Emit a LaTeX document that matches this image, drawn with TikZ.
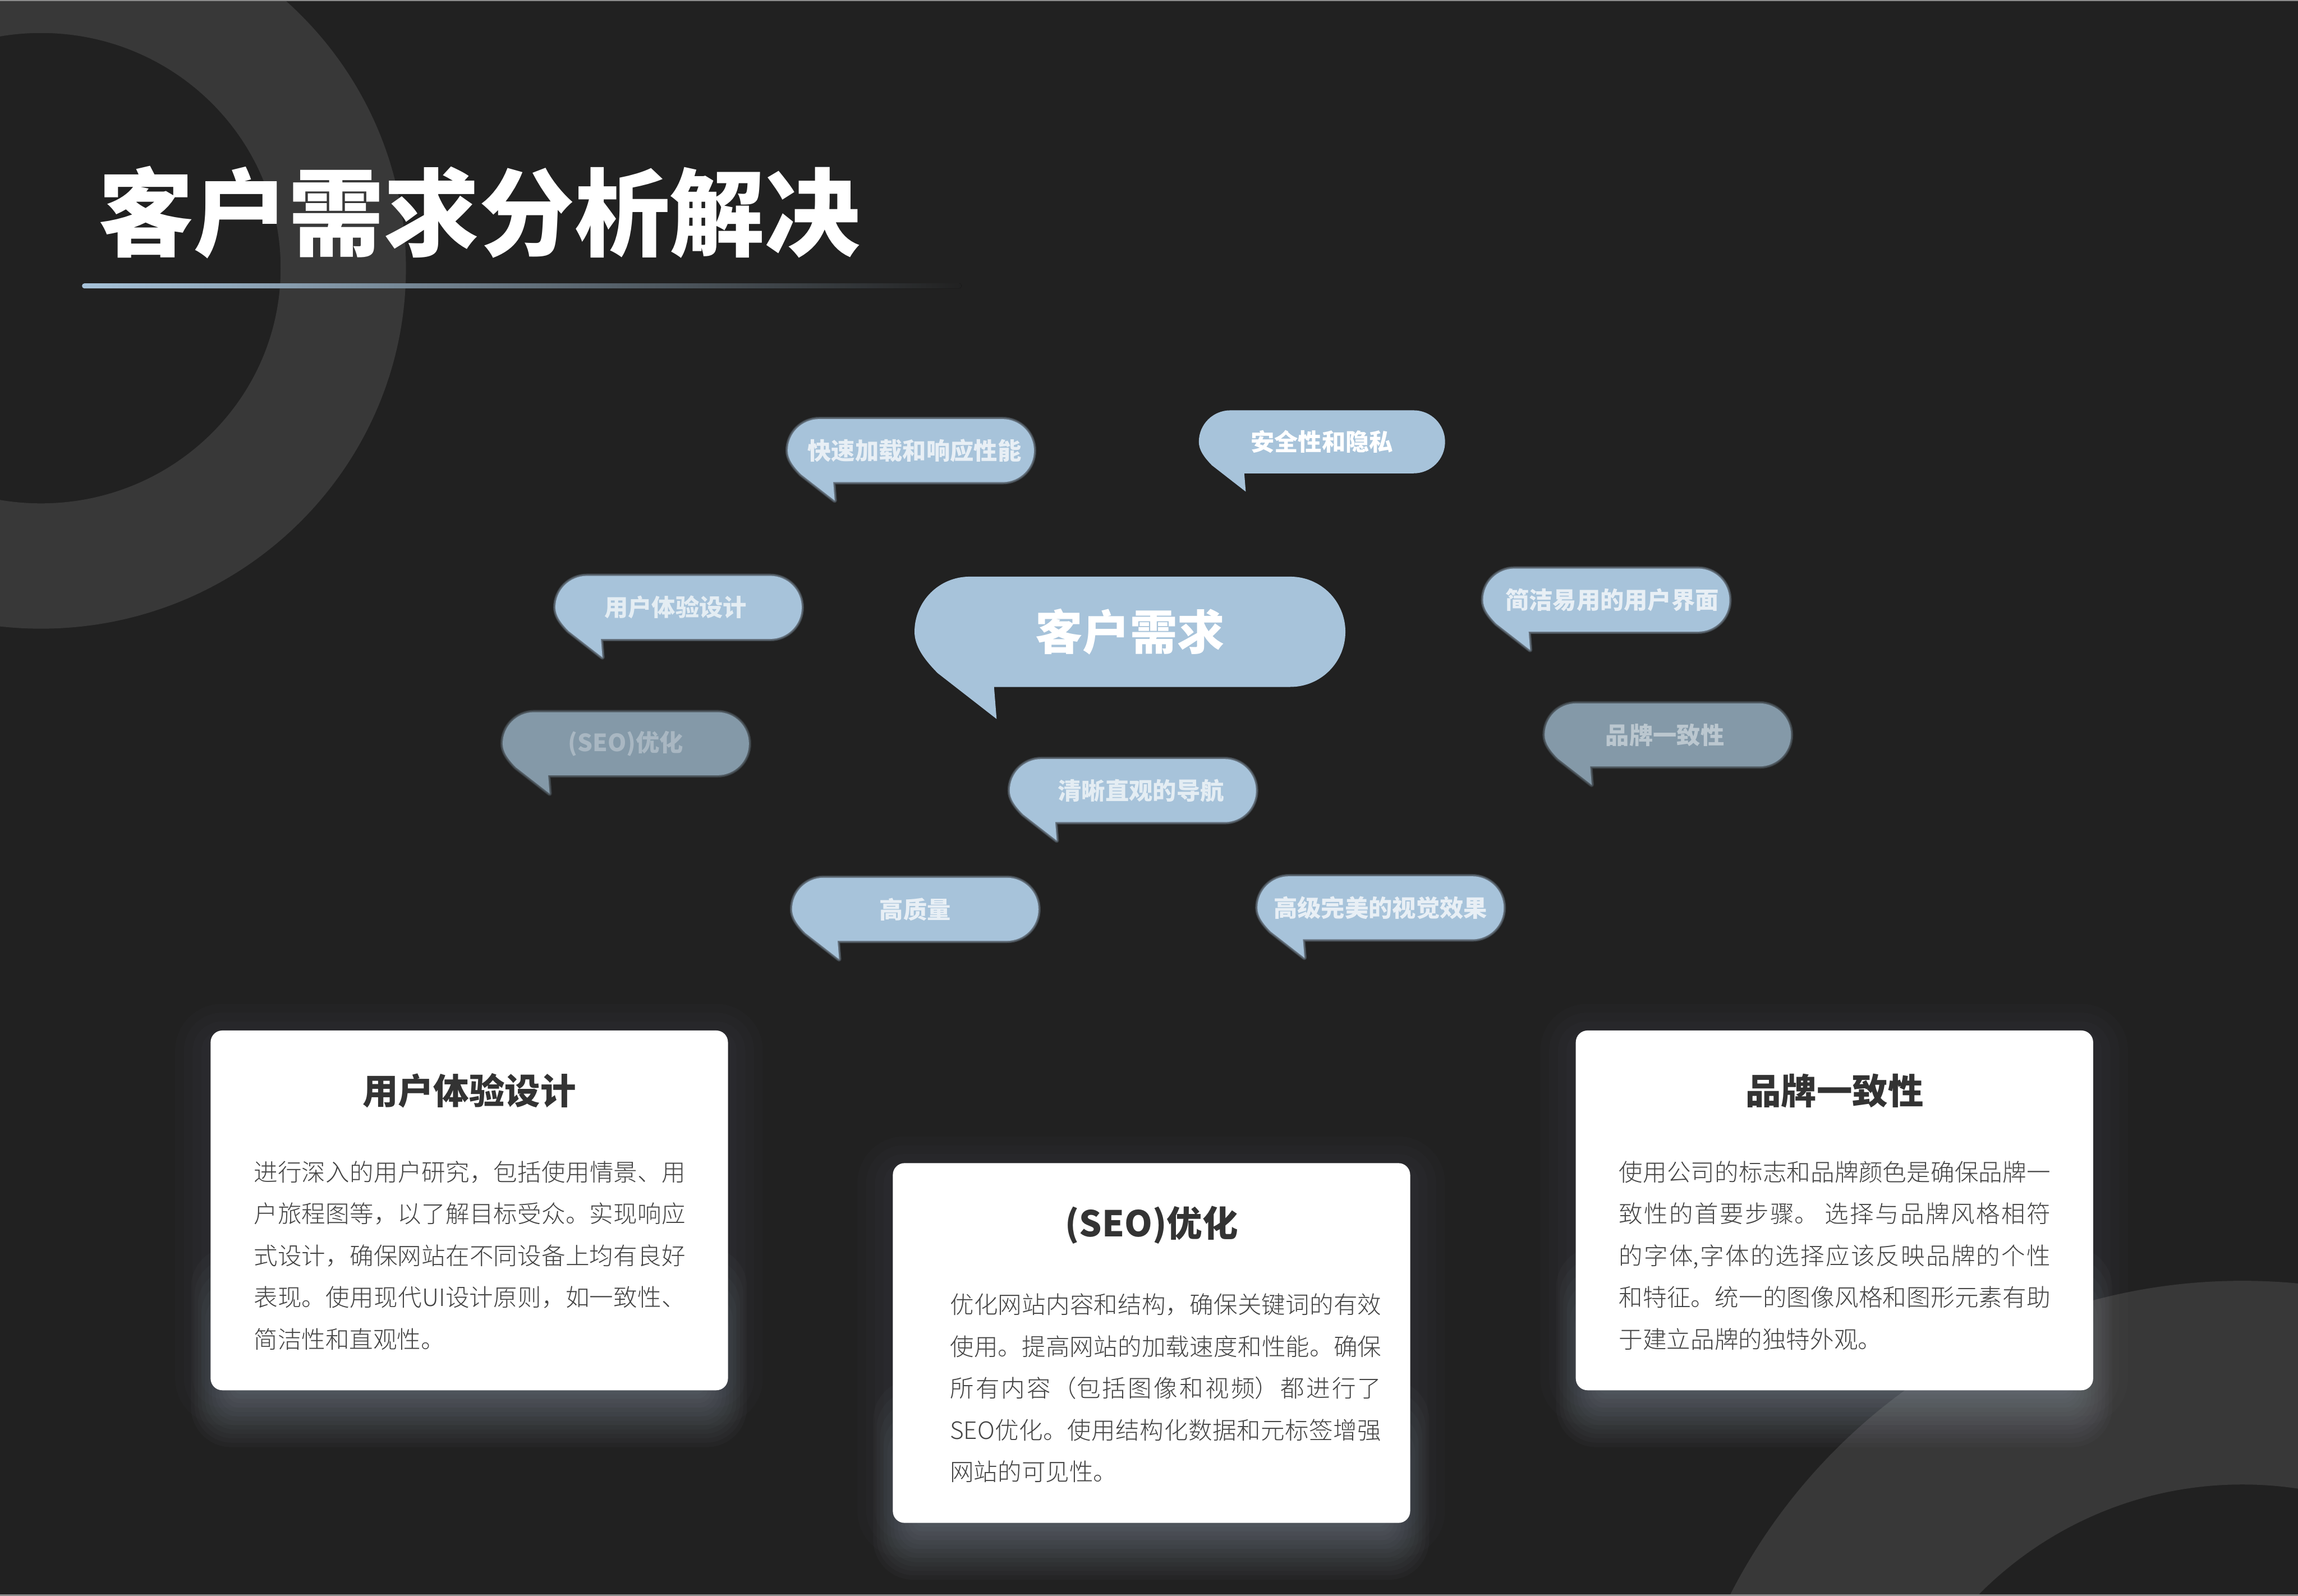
\documentclass[tikz,border=0pt]{standalone}
\usepackage{fontspec}
\setmainfont{Noto Sans CJK SC}
\newfontfamily\thinfont{Noto Sans CJK SC Light}
\usetikzlibrary{calc}
\XeTeXlinebreaklocale "zh"
\XeTeXlinebreakskip=0pt plus 1.5pt
\tolerance=10000
\definecolor{bgdark}{HTML}{212121}
\definecolor{ringgray}{HTML}{383838}
\definecolor{talkblue}{HTML}{A7C3DA}
\definecolor{talkdim}{HTML}{8499A8}
\definecolor{glowblue}{HTML}{A8B6C6}
\definecolor{bodygray}{HTML}{444444}
\tikzset{
  talktext/.style={text=white,font=\fontsize{16.2}{18}\selectfont\bfseries,inner sep=0pt},
  cardfill/.style={fill=white,rounded corners=8pt,minimum width=353pt,minimum height=245.5pt,anchor=north west,inner sep=0pt},
  cardtitle/.style={text=black!80,font=\fontsize{24.3}{28}\selectfont\bfseries,inner sep=0pt,anchor=base},
  cardbody/.style={text=bodygray,text width=294.5pt,align=justify,inner sep=0pt,anchor=north west,font=\fontsize{16.3}{28.5}\thinfont}
}
\newcommand{\talkpath}{(21.5,0) -- (146.5,0) .. controls (158.4,0) and (168,9.6) .. (168,21.5) .. controls (168,33.4) and (158.4,43) .. (146.5,43) -- (31,43) -- (32,55.5) -- (9,37.6) .. controls (3.5,32) and (0,27) .. (0,21.5) .. controls (0,9.6) and (9.6,0) .. (21.5,0) -- cycle}
\newcommand{\talkbox}[6]{
  \begin{scope}[shift={(#2,#3)},scale=#4]
    \fill[#5] \talkpath;
    \node[talktext,#6] (#1) at (84,21.5) {\talklabel};
  \end{scope}
}
\newcommand{\softbox}[5]{
  \begin{scope}[shift={(#2,#3)}]
    \foreach \w in {3.2,2.2,1.2}{
      \draw[#4,line width=\w pt,opacity=.22,line join=round] \talkpath;
    }
  \end{scope}
  \talkbox{#1}{#2}{#3}{1}{#4}{#5}
}
\newcommand{\cardbox}[6]{
  \foreach \g in {6,12,18,24}{
    \fill[glowblue,opacity=.02,rounded corners=8pt+\g pt] (#2-\g,#3-\g+6) rectangle (#2+353+\g,#3+245.5+\g);
  }
  \foreach \g in {3,6,...,39}{
    \fill[glowblue,opacity=.03,rounded corners=4pt+.6*\g pt] (#2+18-.8*\g,#3+245.5-2.5*\g) rectangle (#2+335+.8*\g,#3+245.5+\g);
  }
  \node[cardfill] (card#1) at (#2,#3) {};
  \node[cardtitle] (title#1) at ($(card#1.north)+(0,50.5)$) {#4};
  \node[cardbody] (body#1) at ($(card#1.north west)+(#5,89)$) {#6};
}
\begin{document}
\begin{tikzpicture}[x=1pt,y=-1pt]
\useasboundingbox (0,0) rectangle (1568,1089);
\fill[bgdark] (0,0) rectangle (1568,1089);
\begin{scope}
  \clip (0,0) rectangle (1568,1089);
  \fill[ringgray,even odd rule] (28,183) ellipse[x radius=249,y radius=246] (28,183) ellipse[x radius=163.5,y radius=160.5];
  \fill[ringgray,even odd rule] (1530,1266) circle[radius=392] (1530,1266) circle[radius=253];
\end{scope}
\fill[black!45] (0,0) rectangle (1568,.8);
\fill[black!45] (0,1088) rectangle (1568,1089);

\node[text=white,font=\fontsize{65}{70}\selectfont\bfseries,inner sep=0pt] (headline) at (327,145) {客户需求分析解决};
\fill[left color=talkblue,middle color=talkblue!55!bgdark,right color=bgdark,rounded corners=1.5pt] (56,193.4) rectangle (656,196.8);

\def\talklabel{客户需求}
\talkbox{needmain}{624}{393.5}{1.75}{talkblue}{font=\fontsize{32.3}{36}\selectfont\bfseries}
\def\talklabel{安全性和隐私}
\talkbox{needsafe}{818}{280}{1}{talkblue}{}
\def\talklabel{快速加载和响应性能}
\softbox{needspeed}{537.5}{286}{talkblue}{text opacity=.75,xshift=2.5pt}
\def\talklabel{用户体验设计}
\softbox{needux}{379}{393}{talkblue}{text opacity=.7,xshift=-2pt}
\def\talklabel{简洁易用的用户界面}
\softbox{needui}{1012}{388}{talkblue}{text opacity=.75,xshift=4pt}
\def\talklabel{(SEO)优化}
\softbox{needseo}{343}{486}{talkdim}{text opacity=.3}
\def\talklabel{品牌一致性}
\softbox{needbrand}{1054}{480}{talkdim}{text opacity=.45,xshift=-2pt}
\def\talklabel{清晰直观的导航}
\softbox{neednav}{689}{518}{talkblue}{text opacity=.7,xshift=5.5pt}
\def\talklabel{高质量}
\softbox{needquality}{540.5}{599}{talkblue}{text opacity=.75}
\def\talklabel{高级完美的视觉效果}
\softbox{needvisual}{858}{598}{talkblue}{text opacity=.75}

\cardbox{ux}{143.5}{703}{用户体验设计}{29.5}{进行深入的用户研究，包括使用情景、用\linebreak 户旅程图等，以了解目标受众。实现响应\linebreak 式设计，确保网站在不同设备上均有良好\linebreak 表现。使用现代UI设计原则，如一致性、\linebreak 简洁性和直观性。}
\cardbox{seo}{609}{793.5}{(SEO)优化}{39}{优化网站内容和结构，确保关键词的有效\linebreak 使用。提高网站的加载速度和性能。确保\linebreak 所有内容（包括图像和视频）都进行了\linebreak SEO优化。使用结构化数据和元标签增强\linebreak 网站的可见性。}
\cardbox{brand}{1075}{703}{品牌一致性}{29.5}{使用公司的标志和品牌颜色是确保品牌一\linebreak 致性的首要步骤。 选择与品牌风格相符\linebreak 的字体,字体的选择应该反映品牌的个性\linebreak 和特征。统一的图像风格和图形元素有助\linebreak 于建立品牌的独特外观。}
\end{tikzpicture}
\end{document}
